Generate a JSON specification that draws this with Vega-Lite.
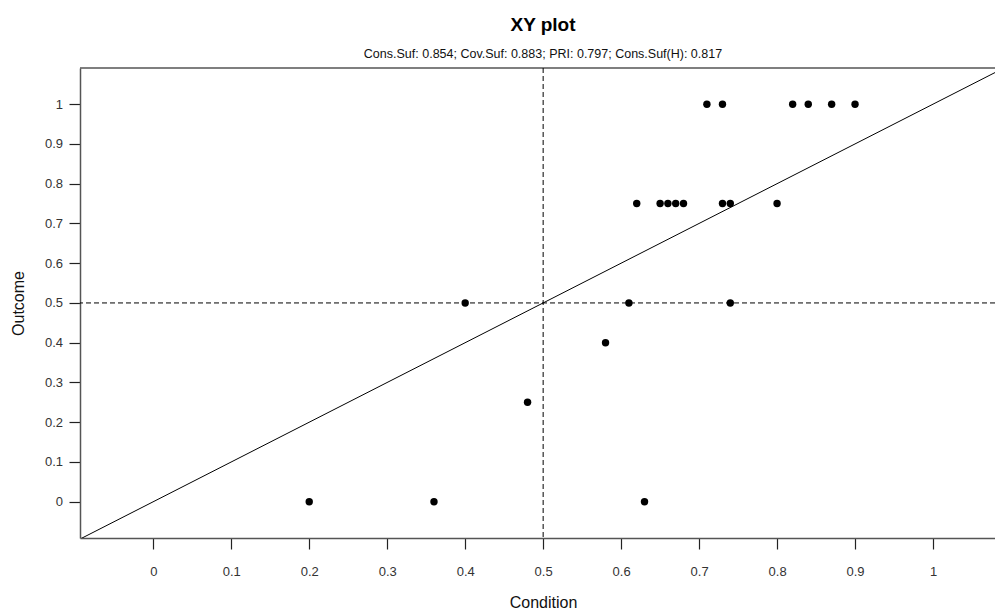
{
  "$schema": "https://vega.github.io/schema/vega-lite/v6.json",
  "autosize": "none",
  "width": 915,
  "height": 470,
  "padding": {"left": 80, "top": 68, "right": 0, "bottom": 71},
  "background": "white",
  "config": {
    "view": {"stroke": null},
    "font": "Liberation Sans",
    "axis": {"grid": false}
  },
  "title": {
    "text": "XY plot",
    "subtitle": "Cons.Suf: 0.854; Cov.Suf: 0.883; PRI: 0.797; Cons.Suf(H): 0.817",
    "font": "Liberation Sans",
    "fontSize": 19,
    "fontWeight": "bold",
    "color": "#000",
    "subtitleFont": "Liberation Sans",
    "subtitleFontSize": 12.5,
    "subtitleColor": "#111",
    "subtitlePadding": 13,
    "offset": 7,
    "anchor": "middle",
    "dx": 5.5
  },
  "datasets": {
    "pts": [
      {"condition": 0.20, "outcome": 0},
      {"condition": 0.36, "outcome": 0},
      {"condition": 0.63, "outcome": 0},
      {"condition": 0.48, "outcome": 0.25},
      {"condition": 0.58, "outcome": 0.4},
      {"condition": 0.40, "outcome": 0.5},
      {"condition": 0.61, "outcome": 0.5},
      {"condition": 0.74, "outcome": 0.5},
      {"condition": 0.62, "outcome": 0.75},
      {"condition": 0.65, "outcome": 0.75},
      {"condition": 0.66, "outcome": 0.75},
      {"condition": 0.67, "outcome": 0.75},
      {"condition": 0.68, "outcome": 0.75},
      {"condition": 0.73, "outcome": 0.75},
      {"condition": 0.74, "outcome": 0.75},
      {"condition": 0.80, "outcome": 0.75},
      {"condition": 0.71, "outcome": 1},
      {"condition": 0.73, "outcome": 1},
      {"condition": 0.82, "outcome": 1},
      {"condition": 0.84, "outcome": 1},
      {"condition": 0.87, "outcome": 1},
      {"condition": 0.90, "outcome": 1}
    ],
    "diag": [
      {"condition": -0.2, "outcome": -0.2},
      {"condition": 1.2, "outcome": 1.2}
    ],
    "one": [{}]
  },
  "layer": [
    {
      "data": {"name": "diag"},
      "mark": {"type": "line", "color": "#000", "strokeWidth": 1, "clip": true},
      "encoding": {
        "x": {
          "field": "condition", "type": "quantitative",
          "scale": {"domain": [-0.094, 1.0795], "nice": false, "zero": false},
          "axis": {
            "title": "Condition",
            "values": [0, 0.1, 0.2, 0.3, 0.4, 0.5, 0.6, 0.7, 0.8, 0.9, 1],
            "format": "~g",
            "domainColor": "#555", "domainWidth": 1.5,
            "tickColor": "#222", "tickWidth": 1.2, "tickSize": 11,
            "labelFont": "Liberation Sans", "labelFontSize": 13, "labelColor": "#333",
            "labelBaseline": "middle", "labelPadding": 22,
            "titleFont": "Liberation Sans", "titleFontSize": 16, "titleFontWeight": "normal", "titleColor": "#111",
            "titleX": 463, "titleY": 64, "titleBaseline": "middle"
          }
        },
        "y": {
          "field": "outcome", "type": "quantitative",
          "scale": {"domain": [-0.0913, 1.091], "nice": false, "zero": false},
          "axis": {
            "title": "Outcome",
            "values": [0, 0.1, 0.2, 0.3, 0.4, 0.5, 0.6, 0.7, 0.8, 0.9, 1],
            "format": "~g",
            "domainColor": "#555", "domainWidth": 1.5,
            "tickColor": "#222", "tickWidth": 1.2, "tickSize": 11,
            "labelFont": "Liberation Sans", "labelFontSize": 13, "labelColor": "#333",
            "labelPadding": 6.5,
            "titleFont": "Liberation Sans", "titleFontSize": 16, "titleFontWeight": "normal", "titleColor": "#111",
            "titleX": -62, "titleBaseline": "middle", "titleAngle": -90
          }
        }
      }
    },
    {
      "data": {"name": "one"},
      "mark": {"type": "rule", "color": "#555", "strokeWidth": 1.5},
      "encoding": {"y": {"datum": 1.091}}
    },
    {
      "data": {"name": "one"},
      "mark": {"type": "rule", "color": "#000", "strokeWidth": 1, "strokeDash": [5, 3]},
      "encoding": {"x": {"datum": 0.5}}
    },
    {
      "data": {"name": "one"},
      "mark": {"type": "rule", "color": "#000", "strokeWidth": 1, "strokeDash": [5, 3]},
      "encoding": {"y": {"datum": 0.5}}
    },
    {
      "data": {"name": "pts"},
      "mark": {"type": "circle", "color": "#000", "opacity": 1, "size": 55},
      "encoding": {
        "x": {"field": "condition", "type": "quantitative"},
        "y": {"field": "outcome", "type": "quantitative"}
      }
    }
  ]
}
